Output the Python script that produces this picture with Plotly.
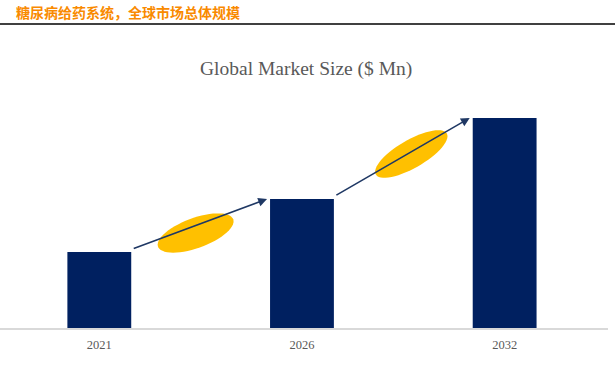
import numpy as np
import plotly.graph_objects as go

years = ["2021", "2026", "2032"]
market_size = [760, 1290, 2100]

W, H = 615, 369
ML, MR, MT, MB = 0, 7, 90, 41
PW, PH = W - ML - MR, H - MT - MB
XR = [-0.49, 2.51]
YR = [0, 2380]
BAR_W = 0.315

xs = list(range(len(years)))

def px_to_data(px, py):
    x = XR[0] + (px - ML) / PW * (XR[1] - XR[0])
    y = YR[0] + (MT + PH - py) / PH * (YR[1] - YR[0])
    return x, y

def data_to_px(x, y):
    px = ML + (x - XR[0]) / (XR[1] - XR[0]) * PW
    py = MT + PH - (y - YR[0]) / (YR[1] - YR[0]) * PH
    return px, py

fig = go.Figure()
fig.add_trace(go.Bar(x=xs, y=market_size, width=BAR_W, marker=dict(color="#002060", line=dict(width=0)),
                     hoverinfo="skip"))

shapes = []
annotations = []
ell_params = [(40, 15, 20, -4, 9), (41, 14, 30, 9, -3)]
for i in range(len(xs) - 1):
    sx, sy = data_to_px(xs[i] + BAR_W / 2, market_size[i])
    ex, ey = data_to_px(xs[i + 1] - BAR_W / 2, market_size[i + 1])
    sx += 1; sy -= 3; ex -= 3
    a_x0, a_y0 = px_to_data(sx, sy)
    a_x1, a_y1 = px_to_data(ex, ey)
    annotations.append(dict(x=a_x1, y=a_y1, ax=a_x0, ay=a_y0, xref="x", yref="y", axref="x", ayref="y",
                            showarrow=True, arrowhead=2, arrowsize=1.1, arrowwidth=1.6, arrowcolor="#1F3864",
                            text=""))
    a, b, ang, dx, dy = ell_params[i]
    cx, cy = (sx + ex) / 2 + dx, (sy + ey) / 2 + dy
    t = np.linspace(0, 2 * np.pi, 60)
    th = np.deg2rad(ang)
    px_ = cx + a * np.cos(t) * np.cos(th) + b * np.sin(t) * np.sin(th)
    py_ = cy - a * np.cos(t) * np.sin(th) + b * np.sin(t) * np.cos(th)
    pts = [px_to_data(p, q) for p, q in zip(px_, py_)]
    path = "M " + " L ".join(f"{p:.4f},{q:.2f}" for p, q in pts) + " Z"
    shapes.append(dict(type="path", path=path, xref="x", yref="y", fillcolor="#FFC000",
                       line=dict(width=0), layer="above"))

# header line
shapes.append(dict(type="line", xref="paper", yref="paper", x0=0, x1=W / PW,
                   y0=(PH + MT - 24) / PH, y1=(PH + MT - 24) / PH, line=dict(color="black", width=1.5)))

annotations.append(dict(text="<b>糖尿病给药系统，全球市场总体规模</b>", xref="paper", yref="paper",
                        x=14 / PW, y=(PH + MT - 12) / PH, xanchor="left", yanchor="middle", showarrow=False,
                        font=dict(family="Noto Sans CJK SC", size=14, color="#F98A00")))
annotations.append(dict(text="Global Market Size ($ Mn)", xref="paper", yref="paper",
                        x=306 / PW, y=(PH + MT - 69) / PH, xanchor="center", yanchor="middle", showarrow=False,
                        font=dict(family="Liberation Serif", size=19.5, color="#595959")))

fig.update_layout(
    width=W, height=H, margin=dict(l=ML, r=MR, t=MT, b=MB),
    paper_bgcolor="white", plot_bgcolor="white", showlegend=False,
    shapes=shapes, annotations=annotations,
    xaxis=dict(range=XR, tickvals=xs, ticktext=years, showgrid=False, zeroline=False,
               showline=True, linecolor="#D9D9D9", linewidth=1.5, ticks="outside", ticklen=4,
               tickcolor="rgba(0,0,0,0)",
               tickfont=dict(family="Liberation Serif", size=12.5, color="#595959")),
    yaxis=dict(range=YR, visible=False, showgrid=False, zeroline=False),
)
fig.write_html("out.html", config={"displayModeBar": False},
               post_script="document.body.style.margin='0';document.body.style.overflow='hidden';")
